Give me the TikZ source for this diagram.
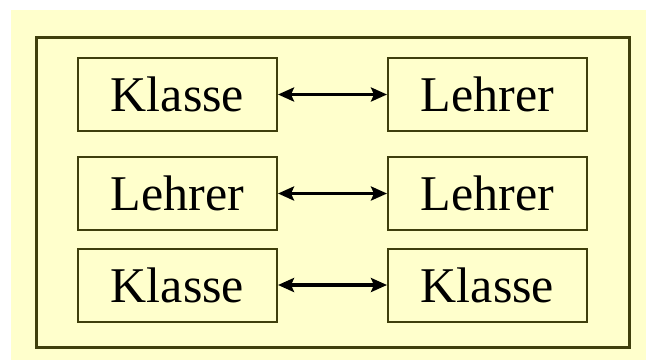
\documentclass[tikz,border=0pt]{standalone}
\usepackage{fontspec}
\setmainfont{Liberation Serif}
\usetikzlibrary{arrows.meta}
\definecolor{paper}{HTML}{FFFFCC}
\definecolor{rim}{HTML}{3F3F0C}
\tikzset{
  frame/.style={draw=rim, line width=3bp, fill=paper, inner sep=0pt},
  entity/.style={draw=rim, line width=2bp, fill=paper, inner sep=0pt,
    minimum width=199bp, minimum height=73bp,
    font=\fontsize{50bp}{56bp}\selectfont},
  tip/.style={Stealth[length=16bp,width=14bp,inset=3bp]},
  link/.style={line width=3.5bp, {Stealth[length=16bp,width=14bp,inset=3bp]}-{Stealth[length=16bp,width=14bp,inset=3bp]}}
}
\begin{document}
\begin{tikzpicture}[x=1bp, y=-1bp]
  \useasboundingbox (0,0) rectangle (646,360);
  \fill[white] (0,0) rectangle (646,360);
  \fill[paper] (11,10) rectangle (646,360);

  \node[frame, minimum width=592.5bp, minimum height=310.5bp] (outer) at (333.25,192.25) {};

  \node[entity] (k1) at (177.5,94.5) {Klasse};
  \node[entity] (l1) at (487.5,94.5) {Lehrer};
  \node[entity] (l2) at (177.5,193.5) {Lehrer};
  \node[entity] (l3) at (487.5,193.5) {Lehrer};
  \node[entity] (k2) at (177.5,285) {Klasse};
  \node[entity] (k3) at (487.5,285) {Klasse};

  \draw[link] (k1) -- (l1);
  \draw[link] (l2) -- (l3);
  \draw[link] (k2) -- (k3);
\end{tikzpicture}
\end{document}
